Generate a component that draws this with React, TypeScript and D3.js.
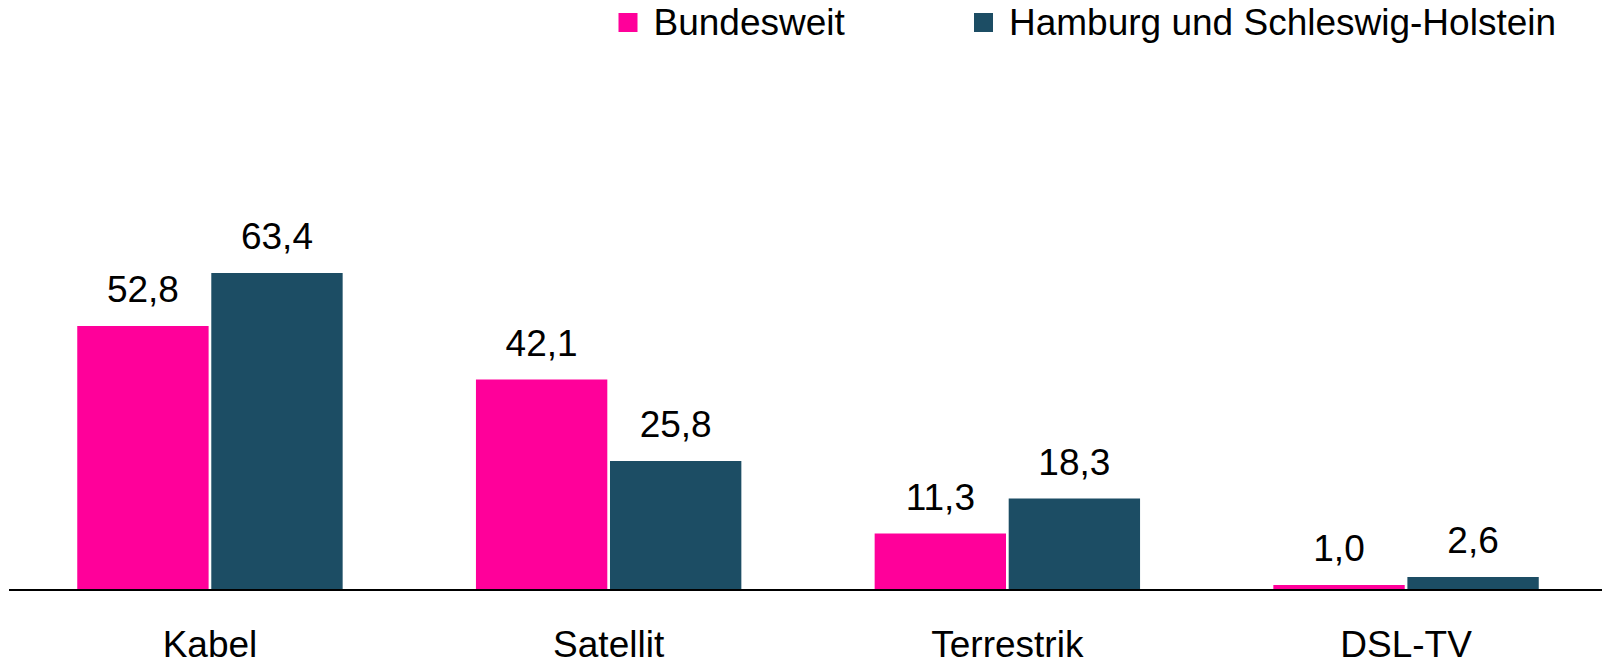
import React from "react";
import * as d3 from "d3";

const categories = ["Kabel", "Satellit", "Terrestrik", "DSL-TV"];
const seriesNames = ["Bundesweit", "Hamburg und Schleswig-Holstein"];
const bundesweit = [52.8, 42.1, 11.3, 1.0];
const hamburgSH = [63.4, 25.8, 18.3, 2.6];
const colors = ["#FF009A", "#1C4D64"];

const W = 1602;
const H = 662;
const FONT = "'Liberation Sans', Arial, Helvetica, sans-serif";

export default function App() {
  const x = d3.scaleBand<string>().domain(categories).range([10.6, 1605.4]).padding(0);
  const inner = d3
    .scaleBand<string>()
    .domain(seriesNames)
    .range([-132.7, 132.7])
    .paddingInner(0.02);
  const y = d3.scaleLinear().domain([0, 100]).range([590, 90]);
  const series = [bundesweit, hamburgSH];
  const fmt = (v: number) => d3.format(".1f")(v).replace(".", ",");

  return (
    <svg
      width={W}
      height={H}
      style={{ position: "absolute", left: 0, top: 0, background: "#fff" }}
      fontFamily={FONT}
    >
      {categories.map((c, i) => {
        const cx = (x(c) as number) + x.bandwidth() / 2;
        return (
          <g key={c}>
            {seriesNames.map((s, k) => {
              const v = series[k][i];
              const bx = cx + (inner(s) as number);
              return (
                <g key={s}>
                  <rect
                    x={bx}
                    y={y(v)}
                    width={inner.bandwidth()}
                    height={y(0) - y(v)}
                    fill={colors[k]}
                  />
                  <text
                    x={bx + inner.bandwidth() / 2}
                    y={y(v) - 24}
                    textAnchor="middle"
                    fontSize={37}
                    fill="#000"
                  >
                    {fmt(v)}
                  </text>
                </g>
              );
            })}
            <text x={cx} y={657} textAnchor="middle" fontSize={37} fill="#000">
              {c}
            </text>
          </g>
        );
      })}
      <line x1={9} x2={W} y1={590} y2={590} stroke="#000" strokeWidth={2} />
      {seriesNames.map((s, k) => {
        const lx = [618.5, 974][k];
        return (
          <g key={s}>
            <rect x={lx} y={13} width={19} height={19} fill={colors[k]} />
            <text x={lx + 35} y={35} fontSize={37} fill="#000">
              {s}
            </text>
          </g>
        );
      })}
    </svg>
  );
}
